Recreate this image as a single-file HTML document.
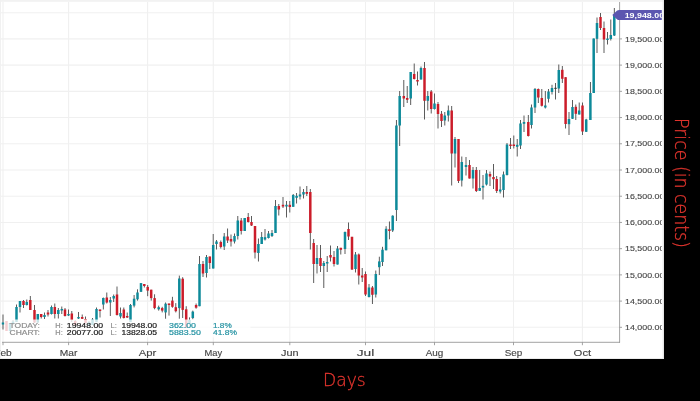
<!DOCTYPE html>
<html lang="en"><head><meta charset="utf-8"><title>Price chart</title>
<style>
html,body{margin:0;padding:0;background:#000;}
body{width:700px;height:401px;overflow:hidden;position:relative;font-family:"Liberation Sans",sans-serif;}
#chart{position:absolute;left:0;top:0;width:664px;height:359px;background:#fff;overflow:hidden;}
#chart svg{display:block;}
.ax{position:absolute;color:#e0342d;font-family:"DejaVu Sans Light","DejaVu Sans","Liberation Sans",sans-serif;font-weight:200;white-space:nowrap;line-height:1;}
#xl{left:323px;top:371.2px;font-size:18px;transform-origin:0 0;transform:scaleX(0.95);-webkit-text-stroke:0.3px #e0342d;}
#yl{left:672.3px;top:118px;font-size:19.2px;transform-origin:0 0;transform:rotate(90deg) translate(0,-100%) scaleX(0.905);-webkit-text-stroke:0.3px #e0342d;}
</style></head><body>
<div id="chart">
<svg width="664" height="359" viewBox="0 0 664 359" font-family="Liberation Sans, sans-serif">
<defs><filter id="bl" x="-2%" y="-2%" width="104%" height="104%"><feGaussianBlur stdDeviation="0.45"/></filter>
<clipPath id="cp"><rect x="0" y="0" width="661.8" height="359"/></clipPath></defs>
<rect width="664" height="359" fill="#fff"/>
<g filter="url(#bl)">
<rect x="0" y="0" width="664" height="1.8" fill="#f2f2f2"/>
<rect x="0" y="0" width="1" height="359" fill="#f1f1f1"/>
<rect x="662.6" y="0" width="1.4" height="359" fill="#e6e6e6"/>
<rect x="0" y="358.2" width="664" height="0.8" fill="#e6e6e6"/>
<g stroke="#f0f0f0" stroke-width="1.1" fill="none">
<line x1="0" y1="327.32" x2="619.5" y2="327.32"/>
<line x1="0" y1="301.1" x2="619.5" y2="301.1"/>
<line x1="0" y1="274.88" x2="619.5" y2="274.88"/>
<line x1="0" y1="248.66" x2="619.5" y2="248.66"/>
<line x1="0" y1="222.44" x2="619.5" y2="222.44"/>
<line x1="0" y1="196.22" x2="619.5" y2="196.22"/>
<line x1="0" y1="170" x2="619.5" y2="170"/>
<line x1="0" y1="143.78" x2="619.5" y2="143.78"/>
<line x1="0" y1="117.56" x2="619.5" y2="117.56"/>
<line x1="0" y1="91.34" x2="619.5" y2="91.34"/>
<line x1="0" y1="65.12" x2="619.5" y2="65.12"/>
<line x1="0" y1="38.9" x2="619.5" y2="38.9"/>
<line x1="0" y1="12.68" x2="619.5" y2="12.68"/>
<line x1="3" y1="2" x2="3" y2="342"/>
<line x1="68.6" y1="2" x2="68.6" y2="342"/>
<line x1="147.6" y1="2" x2="147.6" y2="342"/>
<line x1="213.3" y1="2" x2="213.3" y2="342"/>
<line x1="289.8" y1="2" x2="289.8" y2="342"/>
<line x1="365.5" y1="2" x2="365.5" y2="342"/>
<line x1="434.5" y1="2" x2="434.5" y2="342"/>
<line x1="513.5" y1="2" x2="513.5" y2="342"/>
<line x1="582.4" y1="2" x2="582.4" y2="342"/>
</g>
<g>
<rect x="2.55" y="314.5" width="0.9" height="15" fill="#4a4a4a"/>
<rect x="1.75" y="322.5" width="2.5" height="2" fill="#0c8a9a"/>
<rect x="6.05" y="321" width="0.9" height="10" fill="#4a4a4a"/>
<rect x="5.25" y="321" width="2.5" height="10" fill="#cc1f2b"/>
<rect x="9.55" y="323" width="0.9" height="8" fill="#4a4a4a"/>
<rect x="8.75" y="323" width="2.5" height="8" fill="#0c8a9a"/>
<rect x="12.55" y="320" width="0.9" height="5" fill="#4a4a4a"/>
<rect x="11.75" y="321.5" width="2.5" height="2.5" fill="#0c8a9a"/>
<rect x="16.05" y="304.5" width="0.9" height="17.5" fill="#4a4a4a"/>
<rect x="15.25" y="307" width="2.5" height="15" fill="#0c8a9a"/>
<rect x="19.55" y="301" width="0.9" height="11.5" fill="#4a4a4a"/>
<rect x="18.75" y="301" width="2.5" height="6" fill="#0c8a9a"/>
<rect x="23.05" y="300" width="0.9" height="8" fill="#4a4a4a"/>
<rect x="22.25" y="301" width="2.5" height="4" fill="#cc1f2b"/>
<rect x="26.35" y="299.5" width="0.9" height="6" fill="#4a4a4a"/>
<rect x="25.55" y="302" width="2.5" height="3" fill="#0c8a9a"/>
<rect x="29.85" y="296" width="0.9" height="14" fill="#4a4a4a"/>
<rect x="29.05" y="300" width="2.5" height="10" fill="#cc1f2b"/>
<rect x="34.05" y="305" width="0.9" height="18" fill="#4a4a4a"/>
<rect x="33.25" y="310" width="2.5" height="12.5" fill="#cc1f2b"/>
<rect x="37.35" y="314" width="0.9" height="9" fill="#4a4a4a"/>
<rect x="36.55" y="314" width="2.5" height="8.5" fill="#0c8a9a"/>
<rect x="40.75" y="314" width="0.9" height="4.5" fill="#4a4a4a"/>
<rect x="39.95" y="314" width="2.5" height="3" fill="#cc1f2b"/>
<rect x="44.05" y="312.5" width="0.9" height="6.5" fill="#4a4a4a"/>
<rect x="43.25" y="315" width="2.5" height="2" fill="#0c8a9a"/>
<rect x="47.55" y="310" width="0.9" height="6.5" fill="#4a4a4a"/>
<rect x="46.75" y="312.5" width="2.5" height="2" fill="#cc1f2b"/>
<rect x="51.05" y="305.5" width="0.9" height="9" fill="#4a4a4a"/>
<rect x="50.25" y="307" width="2.5" height="7" fill="#0c8a9a"/>
<rect x="54.35" y="303.5" width="0.9" height="15" fill="#4a4a4a"/>
<rect x="53.55" y="307" width="2.5" height="7" fill="#cc1f2b"/>
<rect x="57.85" y="308" width="0.9" height="10.5" fill="#4a4a4a"/>
<rect x="57.05" y="310" width="2.5" height="4" fill="#0c8a9a"/>
<rect x="61.35" y="306.5" width="0.9" height="7.5" fill="#4a4a4a"/>
<rect x="60.55" y="309" width="2.5" height="1.5" fill="#0c8a9a"/>
<rect x="64.55" y="308" width="0.9" height="8.5" fill="#4a4a4a"/>
<rect x="63.75" y="309.5" width="2.5" height="6.5" fill="#cc1f2b"/>
<rect x="68.05" y="309.5" width="0.9" height="6.5" fill="#4a4a4a"/>
<rect x="67.25" y="314" width="2.5" height="1.5" fill="#0c8a9a"/>
<rect x="71.35" y="311" width="0.9" height="11" fill="#4a4a4a"/>
<rect x="70.55" y="313.5" width="2.5" height="6.5" fill="#cc1f2b"/>
<rect x="74.75" y="320" width="0.9" height="6" fill="#4a4a4a"/>
<rect x="73.95" y="321" width="2.5" height="4" fill="#cc1f2b"/>
<rect x="78.05" y="312" width="0.9" height="7" fill="#4a4a4a"/>
<rect x="77.25" y="317" width="2.5" height="1.5" fill="#0c8a9a"/>
<rect x="81.75" y="314.5" width="0.9" height="4.5" fill="#4a4a4a"/>
<rect x="80.95" y="317" width="2.5" height="1.8" fill="#cc1f2b"/>
<rect x="85.05" y="316.5" width="0.9" height="6.5" fill="#4a4a4a"/>
<rect x="84.25" y="319" width="2.5" height="4" fill="#cc1f2b"/>
<rect x="88.55" y="321" width="0.9" height="5" fill="#4a4a4a"/>
<rect x="87.75" y="322" width="2.5" height="4" fill="#0c8a9a"/>
<rect x="92.05" y="318" width="0.9" height="7" fill="#4a4a4a"/>
<rect x="91.25" y="319.5" width="2.5" height="5.5" fill="#0c8a9a"/>
<rect x="96.05" y="307.5" width="0.9" height="14.5" fill="#4a4a4a"/>
<rect x="95.25" y="309" width="2.5" height="13" fill="#0c8a9a"/>
<rect x="99.55" y="309.5" width="0.9" height="8" fill="#4a4a4a"/>
<rect x="98.75" y="309.5" width="2.5" height="1.5" fill="#cc1f2b"/>
<rect x="102.85" y="297.5" width="0.9" height="12" fill="#4a4a4a"/>
<rect x="102.05" y="298" width="2.5" height="6.5" fill="#0c8a9a"/>
<rect x="106.35" y="292.5" width="0.9" height="11" fill="#4a4a4a"/>
<rect x="105.55" y="297.5" width="2.5" height="5" fill="#cc1f2b"/>
<rect x="109.85" y="297" width="0.9" height="19" fill="#4a4a4a"/>
<rect x="109.05" y="300" width="2.5" height="2.5" fill="#0c8a9a"/>
<rect x="113.25" y="294.5" width="0.9" height="7.5" fill="#4a4a4a"/>
<rect x="112.45" y="296" width="2.5" height="2.5" fill="#0c8a9a"/>
<rect x="116.55" y="286.5" width="0.9" height="29" fill="#4a4a4a"/>
<rect x="115.75" y="294.5" width="2.5" height="20.5" fill="#cc1f2b"/>
<rect x="120.05" y="307.5" width="0.9" height="11" fill="#4a4a4a"/>
<rect x="119.25" y="313" width="2.5" height="3.5" fill="#0c8a9a"/>
<rect x="123.35" y="307.5" width="0.9" height="11" fill="#4a4a4a"/>
<rect x="122.55" y="309.5" width="2.5" height="8.5" fill="#cc1f2b"/>
<rect x="126.75" y="312.5" width="0.9" height="5.5" fill="#4a4a4a"/>
<rect x="125.95" y="316" width="2.5" height="1.5" fill="#cc1f2b"/>
<rect x="130.05" y="304" width="0.9" height="18" fill="#4a4a4a"/>
<rect x="129.25" y="305" width="2.5" height="17" fill="#0c8a9a"/>
<rect x="133.65" y="295" width="0.9" height="12.4" fill="#4a4a4a"/>
<rect x="132.85" y="298.7" width="2.5" height="6.9" fill="#0c8a9a"/>
<rect x="137.05" y="289.3" width="0.9" height="11.3" fill="#4a4a4a"/>
<rect x="136.25" y="292.5" width="2.5" height="6.8" fill="#0c8a9a"/>
<rect x="140.55" y="283" width="0.9" height="9" fill="#4a4a4a"/>
<rect x="139.75" y="283.1" width="2.5" height="8.7" fill="#0c8a9a"/>
<rect x="143.85" y="284" width="0.9" height="3.5" fill="#4a4a4a"/>
<rect x="143.05" y="284" width="2.5" height="2" fill="#cc1f2b"/>
<rect x="147.25" y="285" width="0.9" height="11.2" fill="#4a4a4a"/>
<rect x="146.45" y="286.9" width="2.5" height="3.7" fill="#cc1f2b"/>
<rect x="150.75" y="289.7" width="0.9" height="10.9" fill="#4a4a4a"/>
<rect x="149.95" y="289.7" width="2.5" height="8.4" fill="#cc1f2b"/>
<rect x="154.15" y="294.3" width="0.9" height="15" fill="#4a4a4a"/>
<rect x="153.35" y="298.1" width="2.5" height="10" fill="#cc1f2b"/>
<rect x="158.25" y="305.6" width="0.9" height="5" fill="#4a4a4a"/>
<rect x="157.45" y="307.2" width="2.5" height="2.1" fill="#0c8a9a"/>
<rect x="161.75" y="306.8" width="0.9" height="5.6" fill="#4a4a4a"/>
<rect x="160.95" y="308.1" width="2.5" height="2.5" fill="#cc1f2b"/>
<rect x="165.15" y="302.5" width="0.9" height="16.2" fill="#4a4a4a"/>
<rect x="164.35" y="303.7" width="2.5" height="8.7" fill="#0c8a9a"/>
<rect x="168.55" y="303.5" width="0.9" height="12.1" fill="#4a4a4a"/>
<rect x="167.75" y="303.5" width="2.5" height="1.5" fill="#cc1f2b"/>
<rect x="171.95" y="296.8" width="0.9" height="10.9" fill="#4a4a4a"/>
<rect x="171.15" y="300.6" width="2.5" height="6.2" fill="#cc1f2b"/>
<rect x="175.35" y="303.1" width="0.9" height="9.3" fill="#4a4a4a"/>
<rect x="174.55" y="307.2" width="2.5" height="4" fill="#cc1f2b"/>
<rect x="178.85" y="275.6" width="0.9" height="43.1" fill="#4a4a4a"/>
<rect x="178.05" y="278.5" width="2.5" height="29.6" fill="#0c8a9a"/>
<rect x="182.25" y="277.2" width="0.9" height="40.8" fill="#4a4a4a"/>
<rect x="181.45" y="278.7" width="2.5" height="31.2" fill="#cc1f2b"/>
<rect x="185.75" y="306.2" width="0.9" height="21.8" fill="#4a4a4a"/>
<rect x="184.95" y="309.3" width="2.5" height="18.7" fill="#cc1f2b"/>
<rect x="189.05" y="317.4" width="0.9" height="5.6" fill="#4a4a4a"/>
<rect x="188.25" y="320" width="2.5" height="3" fill="#0c8a9a"/>
<rect x="192.35" y="310.6" width="0.9" height="8.7" fill="#4a4a4a"/>
<rect x="191.55" y="311.6" width="2.5" height="6.4" fill="#0c8a9a"/>
<rect x="195.65" y="303.5" width="0.9" height="5.2" fill="#4a4a4a"/>
<rect x="194.85" y="305" width="2.5" height="2.7" fill="#cc1f2b"/>
<rect x="199.05" y="256" width="0.9" height="50.2" fill="#4a4a4a"/>
<rect x="198.25" y="264" width="2.5" height="42.2" fill="#0c8a9a"/>
<rect x="202.55" y="261" width="0.9" height="16" fill="#4a4a4a"/>
<rect x="201.75" y="264" width="2.5" height="9.5" fill="#cc1f2b"/>
<rect x="206.05" y="255" width="0.9" height="22.5" fill="#4a4a4a"/>
<rect x="205.25" y="257" width="2.5" height="16" fill="#0c8a9a"/>
<rect x="209.35" y="256.5" width="0.9" height="12.5" fill="#4a4a4a"/>
<rect x="208.55" y="256.5" width="2.5" height="6.5" fill="#cc1f2b"/>
<rect x="212.75" y="234" width="0.9" height="34.5" fill="#4a4a4a"/>
<rect x="211.95" y="245" width="2.5" height="23.5" fill="#0c8a9a"/>
<rect x="216.05" y="240" width="0.9" height="9.5" fill="#4a4a4a"/>
<rect x="215.25" y="241.5" width="2.5" height="2.5" fill="#0c8a9a"/>
<rect x="220.35" y="240.5" width="0.9" height="8" fill="#4a4a4a"/>
<rect x="219.55" y="242" width="2.5" height="5" fill="#cc1f2b"/>
<rect x="223.75" y="233" width="0.9" height="17" fill="#4a4a4a"/>
<rect x="222.95" y="236.5" width="2.5" height="10" fill="#0c8a9a"/>
<rect x="227.15" y="228.5" width="0.9" height="14.5" fill="#4a4a4a"/>
<rect x="226.35" y="236.5" width="2.5" height="4" fill="#cc1f2b"/>
<rect x="230.55" y="234.5" width="0.9" height="12" fill="#4a4a4a"/>
<rect x="229.75" y="239" width="2.5" height="2.5" fill="#cc1f2b"/>
<rect x="234.05" y="233.5" width="0.9" height="10" fill="#4a4a4a"/>
<rect x="233.25" y="236" width="2.5" height="5.5" fill="#0c8a9a"/>
<rect x="237.35" y="216" width="0.9" height="23.5" fill="#4a4a4a"/>
<rect x="236.55" y="220.5" width="2.5" height="15.5" fill="#0c8a9a"/>
<rect x="240.75" y="218" width="0.9" height="16.5" fill="#4a4a4a"/>
<rect x="239.95" y="220.5" width="2.5" height="10.5" fill="#cc1f2b"/>
<rect x="244.25" y="218" width="0.9" height="13" fill="#4a4a4a"/>
<rect x="243.45" y="218" width="2.5" height="13" fill="#0c8a9a"/>
<rect x="247.75" y="213" width="0.9" height="9.5" fill="#4a4a4a"/>
<rect x="246.95" y="217" width="2.5" height="5" fill="#cc1f2b"/>
<rect x="251.05" y="216" width="0.9" height="10" fill="#4a4a4a"/>
<rect x="250.25" y="222" width="2.5" height="3.5" fill="#cc1f2b"/>
<rect x="254.55" y="226" width="0.9" height="32.5" fill="#4a4a4a"/>
<rect x="253.75" y="226" width="2.5" height="26.5" fill="#cc1f2b"/>
<rect x="257.95" y="238.5" width="0.9" height="23" fill="#4a4a4a"/>
<rect x="257.15" y="244" width="2.5" height="9" fill="#0c8a9a"/>
<rect x="261.25" y="232" width="0.9" height="12" fill="#4a4a4a"/>
<rect x="260.45" y="237" width="2.5" height="7" fill="#0c8a9a"/>
<rect x="264.55" y="229" width="0.9" height="11.5" fill="#4a4a4a"/>
<rect x="263.75" y="237.2" width="2.5" height="2.3" fill="#0c8a9a"/>
<rect x="268.05" y="231" width="0.9" height="7.5" fill="#4a4a4a"/>
<rect x="267.25" y="233.5" width="2.5" height="4.5" fill="#0c8a9a"/>
<rect x="271.55" y="230" width="0.9" height="7" fill="#4a4a4a"/>
<rect x="270.75" y="233" width="2.5" height="3" fill="#0c8a9a"/>
<rect x="275.05" y="200" width="0.9" height="33" fill="#4a4a4a"/>
<rect x="274.25" y="206" width="2.5" height="27" fill="#0c8a9a"/>
<rect x="278.35" y="204" width="0.9" height="11.5" fill="#4a4a4a"/>
<rect x="277.55" y="206" width="2.5" height="3.5" fill="#cc1f2b"/>
<rect x="282.55" y="197" width="0.9" height="11" fill="#4a4a4a"/>
<rect x="281.75" y="204.8" width="2.5" height="1.7" fill="#cc1f2b"/>
<rect x="286.05" y="201" width="0.9" height="16.5" fill="#4a4a4a"/>
<rect x="285.25" y="204.8" width="2.5" height="1.7" fill="#0c8a9a"/>
<rect x="289.35" y="201" width="0.9" height="11.5" fill="#4a4a4a"/>
<rect x="288.55" y="204.8" width="2.5" height="2.2" fill="#cc1f2b"/>
<rect x="292.75" y="194" width="0.9" height="12.8" fill="#4a4a4a"/>
<rect x="291.95" y="195" width="2.5" height="11.8" fill="#0c8a9a"/>
<rect x="296.15" y="193" width="0.9" height="10.5" fill="#4a4a4a"/>
<rect x="295.35" y="195.8" width="2.5" height="2" fill="#0c8a9a"/>
<rect x="299.55" y="186.5" width="0.9" height="13" fill="#4a4a4a"/>
<rect x="298.75" y="194.5" width="2.5" height="2" fill="#0c8a9a"/>
<rect x="303.05" y="189" width="0.9" height="9.5" fill="#4a4a4a"/>
<rect x="302.25" y="192" width="2.5" height="2.5" fill="#0c8a9a"/>
<rect x="306.35" y="186" width="0.9" height="10" fill="#4a4a4a"/>
<rect x="305.55" y="192" width="2.5" height="1.8" fill="#cc1f2b"/>
<rect x="309.85" y="189" width="0.9" height="60.5" fill="#4a4a4a"/>
<rect x="309.05" y="192" width="2.5" height="41" fill="#cc1f2b"/>
<rect x="313.25" y="239" width="0.9" height="44" fill="#4a4a4a"/>
<rect x="312.45" y="243" width="2.5" height="21" fill="#cc1f2b"/>
<rect x="316.55" y="245" width="0.9" height="28.5" fill="#4a4a4a"/>
<rect x="315.75" y="258" width="2.5" height="6" fill="#0c8a9a"/>
<rect x="320.05" y="245" width="0.9" height="27" fill="#4a4a4a"/>
<rect x="319.25" y="258" width="2.5" height="8" fill="#cc1f2b"/>
<rect x="323.35" y="261" width="0.9" height="27" fill="#4a4a4a"/>
<rect x="322.55" y="263" width="2.5" height="3" fill="#0c8a9a"/>
<rect x="326.75" y="256" width="0.9" height="16" fill="#4a4a4a"/>
<rect x="325.95" y="262" width="2.5" height="1.5" fill="#0c8a9a"/>
<rect x="330.05" y="245.5" width="0.9" height="16" fill="#4a4a4a"/>
<rect x="329.25" y="255" width="2.5" height="2.5" fill="#cc1f2b"/>
<rect x="333.55" y="251" width="0.9" height="15.5" fill="#4a4a4a"/>
<rect x="332.75" y="257" width="2.5" height="7" fill="#cc1f2b"/>
<rect x="337.05" y="246" width="0.9" height="18.5" fill="#4a4a4a"/>
<rect x="336.25" y="248.5" width="2.5" height="16" fill="#0c8a9a"/>
<rect x="340.35" y="247.8" width="0.9" height="6.7" fill="#4a4a4a"/>
<rect x="339.55" y="247.8" width="2.5" height="2" fill="#cc1f2b"/>
<rect x="344.55" y="231.5" width="0.9" height="22.5" fill="#4a4a4a"/>
<rect x="343.75" y="232" width="2.5" height="17" fill="#0c8a9a"/>
<rect x="348.05" y="222.5" width="0.9" height="17.5" fill="#4a4a4a"/>
<rect x="347.25" y="229" width="2.5" height="7.5" fill="#cc1f2b"/>
<rect x="351.55" y="236.8" width="0.9" height="33.2" fill="#4a4a4a"/>
<rect x="350.75" y="236.8" width="2.5" height="32.7" fill="#cc1f2b"/>
<rect x="355.05" y="252" width="0.9" height="20.5" fill="#4a4a4a"/>
<rect x="354.25" y="254.5" width="2.5" height="14.5" fill="#0c8a9a"/>
<rect x="358.35" y="253.5" width="0.9" height="31" fill="#4a4a4a"/>
<rect x="357.55" y="254.5" width="2.5" height="21" fill="#cc1f2b"/>
<rect x="361.75" y="268" width="0.9" height="14" fill="#4a4a4a"/>
<rect x="360.95" y="275.5" width="2.5" height="2" fill="#cc1f2b"/>
<rect x="365.05" y="271.5" width="0.9" height="24.5" fill="#4a4a4a"/>
<rect x="364.25" y="274" width="2.5" height="20.5" fill="#cc1f2b"/>
<rect x="368.55" y="284" width="0.9" height="13.5" fill="#4a4a4a"/>
<rect x="367.75" y="287.5" width="2.5" height="9.5" fill="#0c8a9a"/>
<rect x="371.95" y="286" width="0.9" height="18" fill="#4a4a4a"/>
<rect x="371.15" y="287.5" width="2.5" height="7.3" fill="#cc1f2b"/>
<rect x="375.35" y="270.5" width="0.9" height="27" fill="#4a4a4a"/>
<rect x="374.55" y="274" width="2.5" height="20.5" fill="#0c8a9a"/>
<rect x="378.85" y="256.7" width="0.9" height="18.3" fill="#4a4a4a"/>
<rect x="378.05" y="261.4" width="2.5" height="5.8" fill="#0c8a9a"/>
<rect x="382.05" y="246.8" width="0.9" height="19.2" fill="#4a4a4a"/>
<rect x="381.25" y="249.7" width="2.5" height="12.3" fill="#0c8a9a"/>
<rect x="385.65" y="226.2" width="0.9" height="24.1" fill="#4a4a4a"/>
<rect x="384.85" y="228.8" width="2.5" height="21.5" fill="#0c8a9a"/>
<rect x="388.95" y="221.5" width="0.9" height="17.8" fill="#4a4a4a"/>
<rect x="388.15" y="229.3" width="2.5" height="1.7" fill="#cc1f2b"/>
<rect x="392.25" y="215.3" width="0.9" height="16.7" fill="#4a4a4a"/>
<rect x="391.45" y="215.7" width="2.5" height="14.8" fill="#0c8a9a"/>
<rect x="395.95" y="120" width="0.9" height="101" fill="#4a4a4a"/>
<rect x="395.15" y="125.5" width="2.5" height="84.5" fill="#0c8a9a"/>
<rect x="399.25" y="91" width="0.9" height="55" fill="#4a4a4a"/>
<rect x="398.45" y="96" width="2.5" height="29.5" fill="#0c8a9a"/>
<rect x="403.35" y="80" width="0.9" height="27" fill="#4a4a4a"/>
<rect x="402.55" y="96" width="2.5" height="2.5" fill="#cc1f2b"/>
<rect x="406.75" y="86" width="0.9" height="17" fill="#4a4a4a"/>
<rect x="405.95" y="98" width="2.5" height="1.8" fill="#cc1f2b"/>
<rect x="410.25" y="72" width="0.9" height="33" fill="#4a4a4a"/>
<rect x="409.45" y="72" width="2.5" height="26.5" fill="#0c8a9a"/>
<rect x="413.75" y="63.5" width="0.9" height="16" fill="#4a4a4a"/>
<rect x="412.95" y="74" width="2.5" height="5" fill="#cc1f2b"/>
<rect x="417.05" y="71.5" width="0.9" height="14" fill="#4a4a4a"/>
<rect x="416.25" y="80" width="2.5" height="1.5" fill="#cc1f2b"/>
<rect x="420.55" y="66.5" width="0.9" height="13" fill="#4a4a4a"/>
<rect x="419.75" y="68" width="2.5" height="11.5" fill="#0c8a9a"/>
<rect x="424.05" y="62" width="0.9" height="57.5" fill="#4a4a4a"/>
<rect x="423.25" y="68" width="2.5" height="32.8" fill="#cc1f2b"/>
<rect x="427.35" y="91" width="0.9" height="19.5" fill="#4a4a4a"/>
<rect x="426.55" y="96" width="2.5" height="4.8" fill="#0c8a9a"/>
<rect x="430.75" y="90" width="0.9" height="23.5" fill="#4a4a4a"/>
<rect x="429.95" y="91.5" width="2.5" height="17.5" fill="#cc1f2b"/>
<rect x="434.05" y="93.5" width="0.9" height="16" fill="#4a4a4a"/>
<rect x="433.25" y="103.5" width="2.5" height="5.5" fill="#0c8a9a"/>
<rect x="437.55" y="102" width="0.9" height="26.5" fill="#4a4a4a"/>
<rect x="436.75" y="104" width="2.5" height="10" fill="#cc1f2b"/>
<rect x="441.05" y="111" width="0.9" height="16" fill="#4a4a4a"/>
<rect x="440.25" y="113.8" width="2.5" height="7.2" fill="#cc1f2b"/>
<rect x="444.35" y="112" width="0.9" height="13.5" fill="#4a4a4a"/>
<rect x="443.55" y="115.5" width="2.5" height="5" fill="#0c8a9a"/>
<rect x="447.85" y="105.5" width="0.9" height="16" fill="#4a4a4a"/>
<rect x="447.05" y="110.5" width="2.5" height="5" fill="#0c8a9a"/>
<rect x="451.25" y="106" width="0.9" height="79.5" fill="#4a4a4a"/>
<rect x="450.45" y="110.5" width="2.5" height="43" fill="#cc1f2b"/>
<rect x="454.55" y="137" width="0.9" height="30.5" fill="#4a4a4a"/>
<rect x="453.75" y="139" width="2.5" height="14.5" fill="#0c8a9a"/>
<rect x="458.05" y="139" width="0.9" height="44" fill="#4a4a4a"/>
<rect x="457.25" y="139" width="2.5" height="42" fill="#cc1f2b"/>
<rect x="461.35" y="156.5" width="0.9" height="30" fill="#4a4a4a"/>
<rect x="460.55" y="162" width="2.5" height="18.5" fill="#0c8a9a"/>
<rect x="465.55" y="157" width="0.9" height="18.5" fill="#4a4a4a"/>
<rect x="464.75" y="165" width="2.5" height="2" fill="#0c8a9a"/>
<rect x="469.05" y="160" width="0.9" height="18.5" fill="#4a4a4a"/>
<rect x="468.25" y="165" width="2.5" height="13.5" fill="#cc1f2b"/>
<rect x="472.55" y="167" width="0.9" height="21.5" fill="#4a4a4a"/>
<rect x="471.75" y="170" width="2.5" height="8.5" fill="#0c8a9a"/>
<rect x="475.85" y="167" width="0.9" height="25" fill="#4a4a4a"/>
<rect x="475.05" y="170" width="2.5" height="21" fill="#cc1f2b"/>
<rect x="479.25" y="170" width="0.9" height="20.8" fill="#4a4a4a"/>
<rect x="478.45" y="188" width="2.5" height="2.8" fill="#0c8a9a"/>
<rect x="482.55" y="175" width="0.9" height="24.5" fill="#4a4a4a"/>
<rect x="481.75" y="185.8" width="2.5" height="1.7" fill="#0c8a9a"/>
<rect x="486.05" y="170" width="0.9" height="15.5" fill="#4a4a4a"/>
<rect x="485.25" y="173.5" width="2.5" height="11" fill="#0c8a9a"/>
<rect x="489.55" y="171.5" width="0.9" height="14.5" fill="#4a4a4a"/>
<rect x="488.75" y="174" width="2.5" height="2.5" fill="#cc1f2b"/>
<rect x="493.05" y="164" width="0.9" height="25" fill="#4a4a4a"/>
<rect x="492.25" y="177" width="2.5" height="2.2" fill="#cc1f2b"/>
<rect x="496.25" y="176" width="0.9" height="17" fill="#4a4a4a"/>
<rect x="495.45" y="179" width="2.5" height="12" fill="#cc1f2b"/>
<rect x="499.75" y="177" width="0.9" height="16.5" fill="#4a4a4a"/>
<rect x="498.95" y="189.5" width="2.5" height="2" fill="#0c8a9a"/>
<rect x="503.05" y="171.5" width="0.9" height="26" fill="#4a4a4a"/>
<rect x="502.25" y="174.5" width="2.5" height="15.5" fill="#0c8a9a"/>
<rect x="506.55" y="143" width="0.9" height="32.5" fill="#4a4a4a"/>
<rect x="505.75" y="144.5" width="2.5" height="30.5" fill="#0c8a9a"/>
<rect x="510.05" y="138" width="0.9" height="11" fill="#4a4a4a"/>
<rect x="509.25" y="144.5" width="2.5" height="1.5" fill="#cc1f2b"/>
<rect x="513.35" y="135.5" width="0.9" height="13" fill="#4a4a4a"/>
<rect x="512.55" y="144.5" width="2.5" height="1.5" fill="#cc1f2b"/>
<rect x="516.75" y="139" width="0.9" height="17.5" fill="#4a4a4a"/>
<rect x="515.95" y="144.8" width="2.5" height="2" fill="#0c8a9a"/>
<rect x="520.05" y="120" width="0.9" height="29" fill="#4a4a4a"/>
<rect x="519.25" y="123.5" width="2.5" height="22" fill="#0c8a9a"/>
<rect x="523.55" y="115.5" width="0.9" height="16.5" fill="#4a4a4a"/>
<rect x="522.75" y="122" width="2.5" height="1.8" fill="#0c8a9a"/>
<rect x="527.85" y="115" width="0.9" height="21.5" fill="#4a4a4a"/>
<rect x="527.05" y="122" width="2.5" height="14" fill="#cc1f2b"/>
<rect x="531.05" y="104.5" width="0.9" height="24" fill="#4a4a4a"/>
<rect x="530.25" y="107.5" width="2.5" height="17.5" fill="#0c8a9a"/>
<rect x="534.55" y="88" width="0.9" height="25" fill="#4a4a4a"/>
<rect x="533.75" y="89" width="2.5" height="18.5" fill="#0c8a9a"/>
<rect x="537.85" y="88.5" width="0.9" height="14.5" fill="#4a4a4a"/>
<rect x="537.05" y="89" width="2.5" height="8.5" fill="#cc1f2b"/>
<rect x="541.35" y="89" width="0.9" height="17.5" fill="#4a4a4a"/>
<rect x="540.55" y="98" width="2.5" height="7.8" fill="#cc1f2b"/>
<rect x="544.85" y="91" width="0.9" height="17.5" fill="#4a4a4a"/>
<rect x="544.05" y="105.5" width="2.5" height="2" fill="#0c8a9a"/>
<rect x="548.05" y="89" width="0.9" height="13.5" fill="#4a4a4a"/>
<rect x="547.25" y="91.5" width="2.5" height="7.3" fill="#0c8a9a"/>
<rect x="551.55" y="84.8" width="0.9" height="9.7" fill="#4a4a4a"/>
<rect x="550.75" y="88" width="2.5" height="4" fill="#0c8a9a"/>
<rect x="555.05" y="83" width="0.9" height="16.5" fill="#4a4a4a"/>
<rect x="554.25" y="87.8" width="2.5" height="1" fill="#333"/>
<rect x="558.35" y="64.5" width="0.9" height="28.5" fill="#4a4a4a"/>
<rect x="557.55" y="70" width="2.5" height="18.5" fill="#0c8a9a"/>
<rect x="561.85" y="66" width="0.9" height="17" fill="#4a4a4a"/>
<rect x="561.05" y="69.8" width="2.5" height="9" fill="#cc1f2b"/>
<rect x="565.15" y="77.2" width="0.9" height="51.3" fill="#4a4a4a"/>
<rect x="564.35" y="77.2" width="2.5" height="46.8" fill="#cc1f2b"/>
<rect x="568.55" y="112" width="0.9" height="23" fill="#4a4a4a"/>
<rect x="567.75" y="119" width="2.5" height="5.2" fill="#0c8a9a"/>
<rect x="572.05" y="100" width="0.9" height="19" fill="#4a4a4a"/>
<rect x="571.25" y="107" width="2.5" height="11.8" fill="#0c8a9a"/>
<rect x="575.35" y="104.5" width="0.9" height="15.5" fill="#4a4a4a"/>
<rect x="574.55" y="106.8" width="2.5" height="7" fill="#cc1f2b"/>
<rect x="578.75" y="102.5" width="0.9" height="12" fill="#4a4a4a"/>
<rect x="577.95" y="110.5" width="2.5" height="4" fill="#0c8a9a"/>
<rect x="582.05" y="102.5" width="0.9" height="32.5" fill="#4a4a4a"/>
<rect x="581.25" y="105.5" width="2.5" height="26" fill="#cc1f2b"/>
<rect x="585.75" y="118.8" width="0.9" height="13.2" fill="#4a4a4a"/>
<rect x="584.95" y="119.5" width="2.5" height="12.3" fill="#0c8a9a"/>
<rect x="589.95" y="82" width="0.9" height="38" fill="#4a4a4a"/>
<rect x="589.15" y="93" width="2.5" height="27" fill="#0c8a9a"/>
<rect x="593.25" y="38.5" width="0.9" height="54.5" fill="#4a4a4a"/>
<rect x="592.45" y="38.5" width="2.5" height="54.5" fill="#0c8a9a"/>
<rect x="596.55" y="17.5" width="0.9" height="35.5" fill="#4a4a4a"/>
<rect x="595.75" y="23" width="2.5" height="15.8" fill="#0c8a9a"/>
<rect x="600.05" y="13" width="0.9" height="17" fill="#4a4a4a"/>
<rect x="599.25" y="17" width="2.5" height="11" fill="#cc1f2b"/>
<rect x="603.55" y="21.5" width="0.9" height="31.5" fill="#4a4a4a"/>
<rect x="602.75" y="28" width="2.5" height="11.5" fill="#cc1f2b"/>
<rect x="607.05" y="32" width="0.9" height="12.5" fill="#4a4a4a"/>
<rect x="606.25" y="38.5" width="2.5" height="1.5" fill="#0c8a9a"/>
<rect x="610.35" y="19.5" width="0.9" height="21" fill="#4a4a4a"/>
<rect x="609.55" y="35" width="2.5" height="4" fill="#0c8a9a"/>
<rect x="613.85" y="8" width="0.9" height="28" fill="#4a4a4a"/>
<rect x="613.05" y="15" width="2.5" height="20.5" fill="#0c8a9a"/>
</g>
<rect x="4.5" y="319.5" width="246" height="18" fill="#fff" fill-opacity="0.78"/>
<g stroke="#8c8c8c" stroke-width="0.8" fill="none">
<line x1="2" y1="342.3" x2="620" y2="342.3"/>
<line x1="619.6" y1="2" x2="619.6" y2="342.6"/>
<line x1="619.6" y1="327.32" x2="622" y2="327.32"/>
<line x1="619.6" y1="301.1" x2="622" y2="301.1"/>
<line x1="619.6" y1="274.88" x2="622" y2="274.88"/>
<line x1="619.6" y1="248.66" x2="622" y2="248.66"/>
<line x1="619.6" y1="222.44" x2="622" y2="222.44"/>
<line x1="619.6" y1="196.22" x2="622" y2="196.22"/>
<line x1="619.6" y1="170" x2="622" y2="170"/>
<line x1="619.6" y1="143.78" x2="622" y2="143.78"/>
<line x1="619.6" y1="117.56" x2="622" y2="117.56"/>
<line x1="619.6" y1="91.34" x2="622" y2="91.34"/>
<line x1="619.6" y1="65.12" x2="622" y2="65.12"/>
<line x1="619.6" y1="38.9" x2="622" y2="38.9"/>
<line x1="619.6" y1="12.68" x2="622" y2="12.68"/>
<line x1="3" y1="342.3" x2="3" y2="345.2"/>
<line x1="68.6" y1="342.3" x2="68.6" y2="345.2"/>
<line x1="147.6" y1="342.3" x2="147.6" y2="345.2"/>
<line x1="213.3" y1="342.3" x2="213.3" y2="345.2"/>
<line x1="289.8" y1="342.3" x2="289.8" y2="345.2"/>
<line x1="365.5" y1="342.3" x2="365.5" y2="345.2"/>
<line x1="434.5" y1="342.3" x2="434.5" y2="345.2"/>
<line x1="513.5" y1="342.3" x2="513.5" y2="345.2"/>
<line x1="582.4" y1="342.3" x2="582.4" y2="345.2"/>
</g>
<g clip-path="url(#cp)" font-size="7.6" fill="#444" stroke="#444" stroke-width="0.12">
<text x="625" y="330.02" textLength="39.4" lengthAdjust="spacingAndGlyphs">14,000.00</text>
<text x="625" y="303.8" textLength="39.4" lengthAdjust="spacingAndGlyphs">14,500.00</text>
<text x="625" y="277.58" textLength="39.4" lengthAdjust="spacingAndGlyphs">15,000.00</text>
<text x="625" y="251.36" textLength="39.4" lengthAdjust="spacingAndGlyphs">15,500.00</text>
<text x="625" y="225.14" textLength="39.4" lengthAdjust="spacingAndGlyphs">16,000.00</text>
<text x="625" y="198.92" textLength="39.4" lengthAdjust="spacingAndGlyphs">16,500.00</text>
<text x="625" y="172.7" textLength="39.4" lengthAdjust="spacingAndGlyphs">17,000.00</text>
<text x="625" y="146.48" textLength="39.4" lengthAdjust="spacingAndGlyphs">17,500.00</text>
<text x="625" y="120.26" textLength="39.4" lengthAdjust="spacingAndGlyphs">18,000.00</text>
<text x="625" y="94.04" textLength="39.4" lengthAdjust="spacingAndGlyphs">18,500.00</text>
<text x="625" y="67.82" textLength="39.4" lengthAdjust="spacingAndGlyphs">19,000.00</text>
<text x="625" y="41.6" textLength="39.4" lengthAdjust="spacingAndGlyphs">19,500.00</text>
</g>
<g font-size="8.4" fill="#444" stroke="#444" stroke-width="0.12" text-anchor="middle">
<text x="3" y="355.6" textLength="17.6" lengthAdjust="spacingAndGlyphs">Feb</text>
<text x="68.6" y="355.6" textLength="17.6" lengthAdjust="spacingAndGlyphs">Mar</text>
<text x="147.6" y="355.6" textLength="17.6" lengthAdjust="spacingAndGlyphs">Apr</text>
<text x="213.3" y="355.6" textLength="17.6" lengthAdjust="spacingAndGlyphs">May</text>
<text x="289.8" y="355.6" textLength="17.6" lengthAdjust="spacingAndGlyphs">Jun</text>
<text x="365.5" y="355.6" textLength="17.6" lengthAdjust="spacingAndGlyphs">Jul</text>
<text x="434.5" y="355.6" textLength="17.6" lengthAdjust="spacingAndGlyphs">Aug</text>
<text x="513.5" y="355.6" textLength="17.6" lengthAdjust="spacingAndGlyphs">Sep</text>
<text x="582.4" y="355.6" textLength="17.6" lengthAdjust="spacingAndGlyphs">Oct</text>
</g>
<g font-size="7.2" stroke-width="0.2">
<text x="9.6" y="327.8" fill="#8e8e8e" stroke="#8e8e8e" textLength="30.3" lengthAdjust="spacingAndGlyphs">TODAY:</text>
<text x="55.3" y="327.8" fill="#8e8e8e" stroke="#8e8e8e" textLength="7.4" lengthAdjust="spacingAndGlyphs">H:</text>
<text x="66.8" y="327.8" fill="#1c1c1c" stroke="#1c1c1c" textLength="36.3" lengthAdjust="spacingAndGlyphs">19948.00</text>
<text x="110.6" y="327.8" fill="#8e8e8e" stroke="#8e8e8e" textLength="6.2" lengthAdjust="spacingAndGlyphs">L:</text>
<text x="121.4" y="327.8" fill="#1c1c1c" stroke="#1c1c1c" textLength="35.7" lengthAdjust="spacingAndGlyphs">19948.00</text>
<text x="169" y="327.8" fill="#2492a2" stroke="#2492a2" textLength="27.0" lengthAdjust="spacingAndGlyphs">362.00</text>
<text x="213" y="327.8" fill="#2492a2" stroke="#2492a2" textLength="18.7" lengthAdjust="spacingAndGlyphs">1.8%</text>
<text x="9.6" y="334.9" fill="#8e8e8e" stroke="#8e8e8e" textLength="30.3" lengthAdjust="spacingAndGlyphs">CHART:</text>
<text x="55.3" y="334.9" fill="#8e8e8e" stroke="#8e8e8e" textLength="7.4" lengthAdjust="spacingAndGlyphs">H:</text>
<text x="66.8" y="334.9" fill="#1c1c1c" stroke="#1c1c1c" textLength="36.3" lengthAdjust="spacingAndGlyphs">20077.00</text>
<text x="110.6" y="334.9" fill="#8e8e8e" stroke="#8e8e8e" textLength="6.2" lengthAdjust="spacingAndGlyphs">L:</text>
<text x="121.4" y="334.9" fill="#1c1c1c" stroke="#1c1c1c" textLength="35.7" lengthAdjust="spacingAndGlyphs">13828.05</text>
<text x="169" y="334.9" fill="#2492a2" stroke="#2492a2" textLength="31.9" lengthAdjust="spacingAndGlyphs">5883.50</text>
<text x="213" y="334.9" fill="#2492a2" stroke="#2492a2" textLength="23.9" lengthAdjust="spacingAndGlyphs">41.8%</text>
</g>
<path clip-path="url(#cp)" d="M612.3 15 L617.2 10.6 Q618 10 619.2 10 L664 10 L664 20 L619.2 20 Q618 20 617.2 19.4 Z" fill="#5b57b0"/>
<g clip-path="url(#cp)"><text x="624.7" y="17.9" font-size="7.6" font-weight="bold" fill="#fff" textLength="39.4" lengthAdjust="spacingAndGlyphs">19,948.00</text></g>
</g>
</svg></div>
<div class="ax" id="xl">Days</div>
<div class="ax" id="yl">Price (in cents)</div>
</body></html>
